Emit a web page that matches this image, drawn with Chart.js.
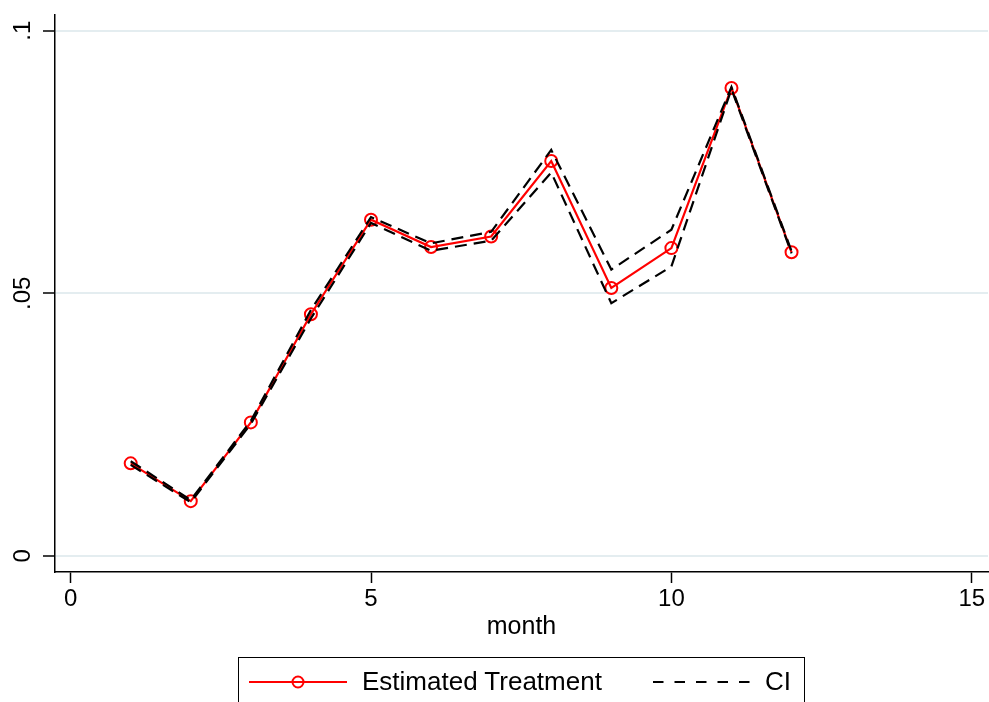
<!DOCTYPE html>
<html lang="en">
<head>
  <meta charset="UTF-8">
  <title>Estimated Treatment by month</title>
  <script src="https://cdn.jsdelivr.net/npm/chart.js"></script>
  <style>
  html, body {
    margin: 0;
    padding: 0;
    background: #fff;
    overflow: hidden;
  }
  #wrap {
    position: relative;
    width: 989px;
    height: 702px;
    overflow: hidden;
  }
  /* legend box, cut off by the bottom edge like in the original */
  #legend {
    position: absolute;
    left: 238px;
    top: 657px;
    width: 567px;
    height: 70px;
    border: 1.5px solid #000;
    box-sizing: border-box;
  }
  .lg-text {
    position: absolute;
    font-family: Arial, "Liberation Sans", sans-serif;
    font-size: 26px;
    line-height: 30px;
    color: #000;
    white-space: nowrap;
  }
  .lg-sample {
    position: absolute;
  }
  </style>
</head>
<body>
  <div id="wrap">
    <!-- canvas a bit wider than the page: chart.js keeps ~7px free on the right,
         the wrapper clips it so the x axis runs to the edge -->
    <canvas id="chart" width="996" height="702"></canvas>
    <div id="legend"></div>
    <svg class="lg-sample" style="left:247px; top:670px;" width="102" height="24">
      <line x1="2" y1="12" x2="100" y2="12" stroke="#ff0000" stroke-width="2.2"/>
      <circle cx="51" cy="12" r="5.5" fill="none" stroke="#ff0000" stroke-width="2"/>
    </svg>
    <span class="lg-text" id="lg1" style="left:362px; top:666px;"></span>
    <svg class="lg-sample" style="left:651px; top:670px;" width="102" height="24">
      <line x1="2" y1="12" x2="100" y2="12" stroke="#000" stroke-width="2.2" stroke-dasharray="10.5 11"/>
    </svg>
    <span class="lg-text" id="lg2" style="left:765px; top:666px;"></span>
  </div>

  <script>
    // values
    var months = [1, 2, 3, 4, 5, 6, 7, 8, 9, 10, 11, 12];
    var estimate = [0.0176, 0.0104, 0.0254, 0.0460, 0.0640, 0.0588, 0.0608, 0.0752, 0.0510, 0.0586, 0.0891, 0.0578];
    var ciUpper  = [0.0180, 0.0106, 0.0257, 0.0468, 0.0645, 0.0595, 0.0617, 0.0773, 0.0545, 0.0621, 0.0893, 0.0580];
    var ciLower  = [0.0173, 0.0102, 0.0251, 0.0452, 0.0634, 0.0581, 0.0600, 0.0730, 0.0481, 0.0551, 0.0889, 0.0576];

    var xTicks = [0, 5, 10, 15];
    var yTicks = [0, 0.05, 0.1];
    var yTickLabels = ['0', '.05', '.1'];
    var seriesNames = ['Estimated Treatment', 'CI'];

    var FONT = 'Arial, "Liberation Sans", sans-serif';

    function points(ys) {
      return months.map(function(m, i) { return { x: m, y: ys[i] }; });
    }

    document.getElementById('lg1').textContent = seriesNames[0];
    document.getElementById('lg2').textContent = seriesNames[1];

    var chart = new Chart('chart', {
      type: 'line',
      data: {
        datasets: [{
          label: seriesNames[1] + ' upper',
          data: points(ciUpper),
          borderColor: '#000',
          borderWidth: 2.2,
          borderDash: [12, 7],
          pointRadius: 0,
          fill: false,
          order: 0
        }, {
          label: seriesNames[1] + ' lower',
          data: points(ciLower),
          borderColor: '#000',
          borderWidth: 2.2,
          borderDash: [12, 7],
          pointRadius: 0,
          fill: false,
          order: 0
        }, {
          label: seriesNames[0],
          data: points(estimate),
          borderColor: '#ff0000',
          borderWidth: 2.2,
          pointRadius: 6,
          pointBorderWidth: 2,
          pointBorderColor: '#ff0000',
          pointBackgroundColor: 'rgba(0,0,0,0)',
          fill: false,
          order: 1
        }]
      },
      options: {
        responsive: false,
        animation: false,
        devicePixelRatio: 1,
        elements: { line: { tension: 0 } },
        layout: { padding: { top: 15, right: 0, left: 0, bottom: 0 } },
        plugins: {
          legend: { display: false },
          tooltip: { enabled: false }
        },
        scales: {
          x: {
            type: 'linear',
            min: -0.26,
            max: 15.27,
            afterBuildTicks: function(s) {
              s.ticks = xTicks.map(function(v) { return { value: v }; });
            },
            afterFit: function(s) {
              s.height = 130;
              s.paddingLeft = 0;
              s.paddingRight = 0;
            },
            grid: {
              drawOnChartArea: false,
              tickLength: 11,
              tickColor: '#000',
              tickWidth: 1.5
            },
            border: { color: '#000', width: 1.5 },
            ticks: {
              color: '#000',
              font: { family: FONT, size: 24 },
              padding: 2,
              maxRotation: 0,
              callback: function(v) { return String(v); }
            },
            title: {
              display: true,
              text: 'month',
              color: '#000',
              font: { family: FONT, size: 25 },
              padding: { top: 0, bottom: 60 }
            }
          },
          y: {
            type: 'linear',
            min: -0.0031,
            max: 0.1030,
            afterBuildTicks: function(s) {
              s.ticks = yTicks.map(function(v) { return { value: v }; });
            },
            afterFit: function(s) {
              s.width = 55;
              s.paddingTop = 0;
              s.paddingBottom = 0;
            },
            grid: {
              color: '#e4edf0',
              lineWidth: 2,
              tickLength: 12,
              tickColor: '#000',
              tickWidth: 1.5
            },
            border: { color: '#000', width: 1.5 },
            ticks: {
              color: '#000',
              font: { family: FONT, size: 24 },
              padding: 3,
              minRotation: 90,
              maxRotation: 90,
              crossAlign: 'center',
              callback: function(v, i) { return yTickLabels[i]; }
            }
          }
        }
      }
    });
  </script>
</body>
</html>
